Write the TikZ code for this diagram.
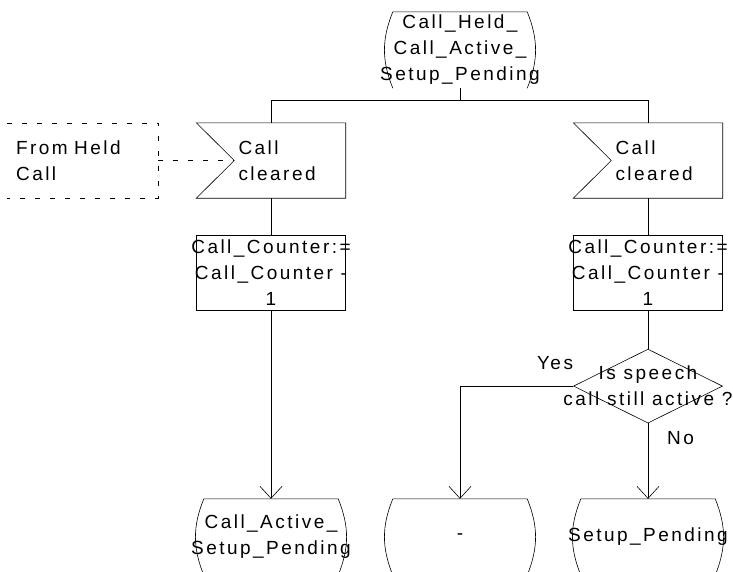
\documentclass[tikz,border=0pt]{standalone}
\usepackage{fontspec}
\setmainfont{Liberation Sans}[LetterSpace=13]
\usetikzlibrary{arrows.meta,positioning,shapes.geometric}

\newcommand{\cl}[1]{\makebox[0pt]{#1}}
% SDL outlines drawn round named nodes
\newcommand{\statesym}[1]{%
  \draw[fl] ([xshift=8pt]#1.north west) -- ([xshift=-8pt]#1.north east)
    to[bend left=22] ([xshift=-8pt]#1.south east);
  \draw[fl] ([xshift=8pt]#1.north west) to[bend right=22] ([xshift=8pt]#1.south west);}
\newcommand{\inputsym}[1]{%
  \draw[fl] (#1.north west) -- (#1.north east) -- (#1.south east)
    -- (#1.south west) -- ([xshift=38pt]#1.west) -- cycle;}

\tikzset{
  sdlbase/.style={inner sep=0pt, font=\fontsize{19}{26}\selectfont},
  sdlstate/.style={sdlbase, minimum width=150pt, minimum height=76pt, align=center},
  sdlinput/.style={sdlbase, minimum height=75pt, text width=65pt, inner xsep=42pt, align=left},
  sdltask/.style={sdlbase, draw, fl, minimum width=149pt, minimum height=75pt, align=center},
  sdldec/.style={sdlbase, draw, fl, diamond, minimum width=149pt, minimum height=74pt, align=center},
  sdlcmt/.style={sdlbase, minimum height=75pt, text width=133pt, inner xsep=9pt, align=left},
  lbl/.style={sdlbase},
  fl/.style={line width=.6pt},
  fla/.style={fl, -{Straight Barb[length=12pt,width=22pt]}},
  cmtline/.style={fl, dash pattern=on 5pt off 10pt},
}

\begin{document}
\begin{tikzpicture}[x=1pt, y=-1pt]
  \useasboundingbox (0,0) rectangle (733,571);
  % ---- start state ----
  \node[sdlstate] (top) at (460,50) {\cl{Call\_Held\_}\\\cl{Call\_Active\_}\\\cl{Setup\_Pending}};
  \statesym{top}
  \coordinate (split) at (460,100);

  % ---- left branch ----
  \node[sdlinput] (inL) at (271,160.5) {Call\\cleared};
  \inputsym{inL}
  \node[sdlcmt, left=38pt of inL] (cmt) {From Held\\Call};
  \draw[cmtline] (cmt.north west) -- (cmt.north east) -- (cmt.south east) -- (cmt.south west);
  \draw[cmtline] (cmt.east) -- ([xshift=38pt]inL.west);
  \node[sdltask, below=37pt of inL] (tL) {\cl{Call\_Counter:=}\\\cl{Call\_Counter -}\\\cl{1}};
  \node[sdlstate] (sL) at (271,537) {\cl{Call\_Active\_}\\\cl{Setup\_Pending}};
  \statesym{sL}

  % ---- right branch ----
  \node[sdlinput] (inR) at (648,160.5) {Call\\cleared};
  \inputsym{inR}
  \node[sdltask, below=37pt of inR] (tR) {\cl{Call\_Counter:=}\\\cl{Call\_Counter -}\\\cl{1}};
  \node[sdldec, below=38pt of tR] (dec) {\cl{Is speech}\\\cl{call still active ?}};
  \node[lbl, above left=16pt and 0pt of dec.west] (yes) {Yes};
  \node[lbl, below right=8pt and 19pt of dec.south] (no) {No};
  \node[sdlstate] (sM) at (460,537) {-};
  \statesym{sM}
  \node[sdlstate] (sR) at (648,537) {\cl{Setup\_Pending}};
  \statesym{sR}

  % ---- flow lines ----
  \draw[fl] (top.south) -- (split);
  \draw[fl] (split) -| (inL.north);
  \draw[fl] (split) -| (inR.north);
  \draw[fl] (inL) -- (tL);
  \draw[fl] (inR) -- (tR);
  \draw[fl] (tR) -- (dec);
  \draw[fla] (tL) -- (sL);
  \draw[fla] (dec.west) -| (sM.north);
  \draw[fla] (dec.south) -- (sR.north);
\end{tikzpicture}
\end{document}
